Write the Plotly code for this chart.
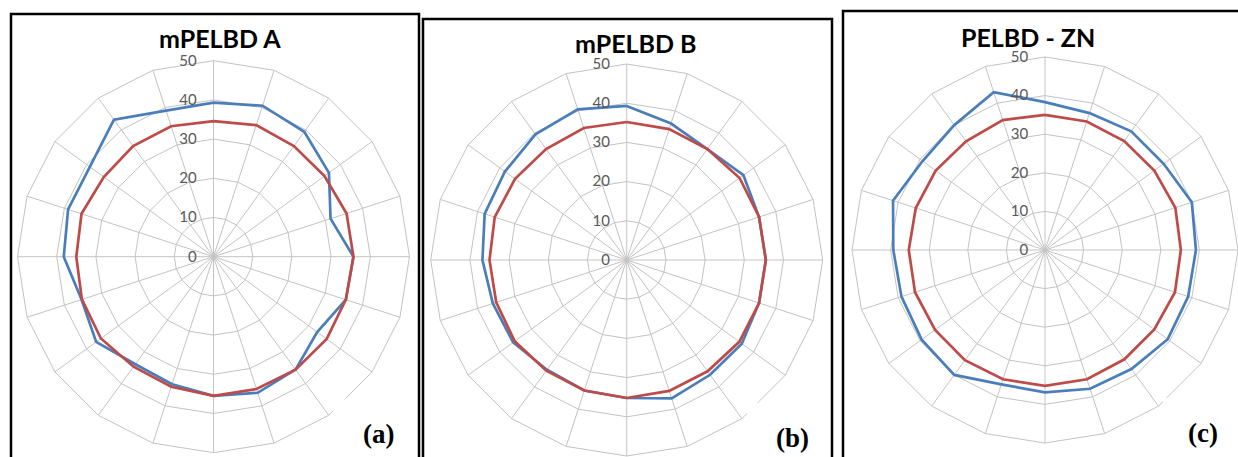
import plotly.graph_objects as go

W, H = 1238, 457

spokes = [f"S{i+1}" for i in range(20)]
radial_ticks = [0, 10, 20, 30, 40, 50]

titles = ["mPELBD A", "mPELBD B", "PELBD - ZN"]
panel_tags = ["(a)", "(b)", "(c)"]

a_blue = [39.3, 40.5, 39.4, 36.4, 31.4, 35.7, 35.5, 32.7, 35.6, 36.5,
          35.5, 34.2, 33.9, 37.0, 35.4, 38.2, 39.0, 39.0, 43.2, 39.2]
a_red = [34.6, 35.3, 34.9, 35.0, 35.7, 35.7, 35.5, 35.7, 35.6, 35.5,
         35.5, 34.9, 34.7, 35.5, 35.3, 35.0, 35.4, 34.6, 34.9, 35.0]

b_blue = [39.3, 36.6, 35.0, 36.8, 35.5, 35.5, 35.5, 36.3, 36.2, 37.1,
          35.2, 35.0, 34.6, 35.8, 35.9, 36.8, 38.1, 38.4, 39.6, 40.4]
b_red = [35.2, 35.1, 35.0, 35.6, 35.5, 35.5, 35.5, 35.5, 35.1, 35.1,
         35.2, 35.0, 34.9, 35.3, 35.0, 35.0, 35.4, 35.2, 35.0, 35.4]

c_blue = [38.3, 37.3, 38.0, 38.0, 40.0, 39.1, 39.0, 39.3, 38.1, 37.8,
          36.9, 36.6, 40.0, 39.5, 39.1, 39.3, 41.4, 39.2, 40.0, 43.0]
c_red = [35.0, 35.0, 34.9, 35.0, 35.5, 35.2, 35.4, 35.0, 35.0, 35.2,
         35.2, 35.2, 35.3, 35.2, 35.4, 35.3, 35.2, 35.0, 34.8, 35.4]

series = [(a_blue, a_red), (b_blue, b_red), (c_blue, c_red)]

BLUE = "#4a7ebb"
RED = "#be4b48"
GRID = "#c3c3c3"

# layout geometry in pixels (center x, center y from top, radius)
centers = [(213.5, 256.7, 196), (626.7, 260.0, 196), (1045.0, 250.0, 193)]
borders = [(11, 14, 419, 470), (423, 19, 832, 470), (843, 11, 1250, 470)]
title_pos = [(220, 38), (636, 43), (1028, 37)]
tag_pos = [(378, 434), (792, 438), (1203, 433)]
white_boxes = [(333, 398, 417, 455), (747, 403, 830, 455), (1163, 398, 1238, 455)]

fig = go.Figure()

for k, (blue, red) in enumerate(series):
    pid = "polar" if k == 0 else f"polar{k+1}"
    for vals, col in [(blue, BLUE), (red, RED)]:
        fig.add_trace(go.Scatterpolar(
            r=vals + vals[:1], theta=spokes + spokes[:1],
            mode="lines", line=dict(color=col, width=2.7),
            subplot=pid, showlegend=False, hoverinfo="skip"))
    cx, cy, R = centers[k]
    dom = dict(x=[(cx - R) / W, (cx + R) / W],
               y=[(H - cy - R) / H, (H - cy + R) / H])
    fig.layout[pid] = dict(
        domain=dom,
        bgcolor="white",
        gridshape="linear",
        radialaxis=dict(range=[0, 50], tickvals=radial_ticks, angle=90,
                        side="counterclockwise", showline=False, tickangle=90,
                        gridcolor=GRID, gridwidth=1,
                        ticks="outside", ticklen=11, tickcolor="rgba(0,0,0,0)",
                        tickfont=dict(family="Lato", size=15, color="#595959")),
        angularaxis=dict(type="category", categoryarray=spokes,
                         direction="clockwise", rotation=90,
                         showticklabels=False, ticks="",
                         gridcolor=GRID, gridwidth=1,
                         showline=True, linecolor=GRID, linewidth=1),
    )

shapes = []
for (x0, y0, x1, y1) in white_boxes:
    shapes.append(dict(type="rect", xref="paper", yref="paper",
                       x0=x0 / W, x1=x1 / W, y0=(H - y1) / H, y1=(H - y0) / H,
                       fillcolor="white", line=dict(width=0), layer="above"))
for (x0, y0, x1, y1) in borders:
    shapes.append(dict(type="rect", xref="paper", yref="paper",
                       x0=x0 / W, x1=x1 / W, y0=(H - y1) / H, y1=(H - y0) / H,
                       fillcolor="rgba(0,0,0,0)", line=dict(color="black", width=2.5),
                       layer="above"))

annotations = []
for t, (x, y) in zip(titles, title_pos):
    annotations.append(dict(text=f"<b>{t}</b>", x=x / W, y=(H - y) / H,
                            xref="paper", yref="paper", xanchor="center", yanchor="middle",
                            showarrow=False,
                            font=dict(family="Lato", size=25, color="black")))
for t, (x, y) in zip(panel_tags, tag_pos):
    annotations.append(dict(text=f"<b>{t}</b>", x=x / W, y=(H - y) / H,
                            xref="paper", yref="paper", xanchor="center", yanchor="middle",
                            showarrow=False,
                            font=dict(family="Liberation Serif", size=27, color="black")))

fig.update_layout(width=W, height=H, margin=dict(l=0, r=0, t=0, b=0),
                  paper_bgcolor="white", plot_bgcolor="white",
                  shapes=shapes, annotations=annotations, showlegend=False)

fig.write_html("out.html", config={"displayModeBar": False},
               post_script="document.body.style.margin='0';document.body.style.overflow='hidden';")
